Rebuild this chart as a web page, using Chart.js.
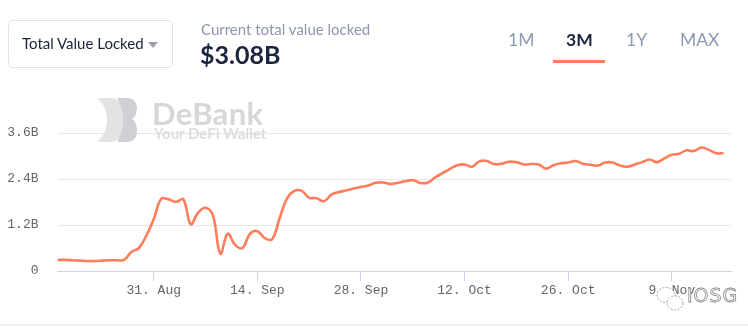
<!DOCTYPE html>
<html>
<head>
<meta charset="utf-8">
<script src="https://cdn.jsdelivr.net/npm/chart.js@4/dist/chart.umd.min.js"></script>
<style>
  html, body { margin: 0; padding: 0; background: #fff; }
  body { width: 748px; height: 327px; position: relative; overflow: hidden; font-family: Lato, 'Open Sans', sans-serif; }
  #chartBox { position: absolute; left: 0; top: 0; width: 748px; height: 327px; }
  .abs { position: absolute; white-space: nowrap; }
  .select { left: 8px; top: 20px; width: 165px; height: 48px; border: 1px solid #dfe2e8; border-radius: 5px; box-sizing: border-box; }
  .select span { position: absolute; left: 13px; top: 13px; font-size: 15px; color: #1c2336; }
  .caret { position: absolute; left: 139px; top: 21px; width: 0; height: 0; border-left: 5px solid transparent; border-right: 5px solid transparent; border-top: 6px solid #9aa1ad; }
  .cur { left: 201px; top: 20px; font-size: 15px; color: #8d97a8; }
  .val { left: 200px; top: 39px; font-size: 25px; font-weight: bold; color: #1b2540; }
  .tab { top: 29px; font-size: 17.5px; color: #8a9bb2; }
  .tab.on { color: #1b2540; font-weight: bold; }
  .uline { left: 553px; top: 60px; width: 52px; height: 3px; background: #ff7d5a; }
  .wm1 { left: 152px; top: 94px; font-size: 31px; font-weight: bold; color: #d6d7da; letter-spacing: 0.3px; }
  .wm2 { left: 154px; top: 124px; font-size: 15px; font-weight: bold; color: #dcdde0; }
  .iosg { left: 687px; top: 284px; font-size: 19px; color: #fff; -webkit-text-stroke: 0.8px #8a8a8a; font-family: 'DejaVu Sans', sans-serif; letter-spacing: 1px; }
  .sep { left: 0; top: 324px; width: 748px; height: 2px; background: #eceef2; }
</style>
</head>
<body>
<div id="chartBox"><canvas id="tvl"></canvas></div>

<div class="abs select"><span>Total Value Locked</span><div class="caret"></div></div>
<div class="abs cur">Current total value locked</div>
<div class="abs val">$3.08B</div>
<div class="abs tab" style="left:508px">1M</div>
<div class="abs tab on" style="left:566px">3M</div>
<div class="abs tab" style="left:626px">1Y</div>
<div class="abs tab" style="left:680px">MAX</div>
<div class="abs uline"></div>

<svg class="abs" style="left:97px;top:98px" width="40" height="44" viewBox="0 0 40 44">
  <path d="M0,0 H12 C24,0 29,10 29,22 C29,34 24,44 12,44 H0 C7,38 10,30 10,22 C10,14 7,6 0,0 Z" fill="#e3e3e6"/>
  <path d="M20,0 H30 C36,0 40,4 40,10 C40,15 38,19 35,21 C38,23 40,27 40,33 C40,40 36,44 30,44 H20 C24,38 26,30 26,22 C26,14 24,6 20,0 Z" fill="#cfd0d4"/>
</svg>
<div class="abs wm1">DeBank</div>
<div class="abs wm2">Your DeFi Wallet</div>

<svg class="abs" style="left:654px;top:284px" width="34" height="30" viewBox="0 0 34 30">
  <ellipse cx="12" cy="11" rx="9" ry="7.5" fill="#fff" stroke="#999" stroke-width="0.9" stroke-dasharray="2 1.5"/>
  <ellipse cx="21" cy="19" rx="8" ry="7" fill="#fff" stroke="#999" stroke-width="0.9" stroke-dasharray="2 1.5"/>
</svg>
<div class="abs iosg">IOSG</div>
<div class="abs sep"></div>

<script>
// TVL in billions USD, one point per day starting 18 Aug
const tvl = [
  0.29, 0.29, 0.28, 0.27, 0.26, 0.26, 0.27, 0.28, 0.28, 0.29,
  0.50, 0.60, 0.92, 1.35, 1.88, 1.87, 1.80, 1.87, 1.22, 1.52,
  1.65, 1.45, 0.45, 0.97, 0.68, 0.60, 0.97, 1.04, 0.86, 0.83,
  1.37, 1.89, 2.09, 2.09, 1.91, 1.90, 1.82, 1.99, 2.06, 2.10,
  2.15, 2.19, 2.23, 2.30, 2.31, 2.27, 2.30, 2.34, 2.37, 2.30,
  2.30, 2.44, 2.55, 2.66, 2.76, 2.78, 2.72, 2.86, 2.87, 2.79,
  2.80, 2.85, 2.84, 2.78, 2.79, 2.78, 2.67, 2.76, 2.81, 2.83,
  2.87, 2.80, 2.77, 2.75, 2.83, 2.83, 2.75, 2.72, 2.78, 2.84,
  2.91, 2.84, 2.94, 3.03, 3.06, 3.15, 3.13, 3.22, 3.16, 3.07,
  3.08
];

// x tick positions (day index) and their labels
const tickDays   = [13, 27, 41, 55, 69, 83];
const tickLabels = ['31. Aug', '14. Sep', '28. Sep', '12. Oct', '26. Oct', '9. Nov'];
const yTicks     = [0, 1.2, 2.4, 3.6];

const points = tvl.map((v, i) => ({ x: i, y: v }));

const AXIS_FONT = { family: "'Liberation Mono', 'Courier New', monospace", size: 13 };

new Chart(document.getElementById('tvl'), {
  type: 'line',
  data: {
    datasets: [{
      data: points,
      borderColor: '#ff7d5a',
      borderWidth: 2.6,
      pointRadius: 0,
      tension: 0.4,
      fill: false,
    }],
  },
  options: {
    responsive: true,
    maintainAspectRatio: false,
    animation: false,
    layout: { padding: { top: 133, right: 17, left: 0, bottom: 16 } },
    plugins: { legend: { display: false }, tooltip: { enabled: false } },
    scales: {
      x: {
        type: 'linear',
        min: 0,
        max: 91,
        afterBuildTicks: s => { s.ticks = tickDays.map(v => ({ value: v })); },
        afterFit: s => { s.height = 40; },
        border: { color: '#ccd6eb', width: 1 },
        grid: { drawOnChartArea: false, drawTicks: true, tickLength: 10, color: '#ccd6eb' },
        ticks: {
          color: '#666',
          font: AXIS_FONT,
          padding: 2,
          maxRotation: 0,
          callback: v => tickLabels[tickDays.indexOf(v)] || '',
        },
      },
      y: {
        min: 0,
        max: 3.6,
        afterBuildTicks: s => { s.ticks = yTicks.map(v => ({ value: v })); },
        afterFit: s => { s.width = 57.5; },
        border: { display: false },
        grid: { color: '#e6e6e6', drawTicks: false },
        ticks: {
          color: '#666',
          font: AXIS_FONT,
          padding: 19,
          callback: v => v === 0 ? '0' : v.toFixed(1) + 'B',
        },
      },
    },
  },
});
</script>
</body>
</html>
